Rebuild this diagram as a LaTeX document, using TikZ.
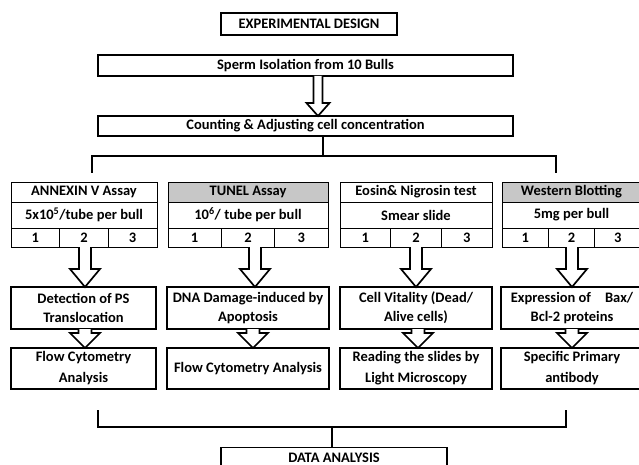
\documentclass[tikz,border=0pt]{standalone}
\usepackage{fontspec}
\setmainfont{Carlito}
\usetikzlibrary{calc}
% #1 start coordinate, #2 target node anchor, #3 shaft half width, #4 head half width, #5 head length
\newcommand\blockarr[5]{%
  \draw[arrline] ($(#1)+(-#3,0)$) -- ($(#1|-#2)+(-#3,-#5)$) -- ($(#1|-#2)+(-#4,-#5)$)
    -- (#1|-#2) -- ($(#1|-#2)+(#4,-#5)$) -- ($(#1|-#2)+(#3,-#5)$) -- ($(#1)+(#3,0)$);}
\begin{document}
\begin{tikzpicture}[x=1pt,y=-1pt,
  every node/.style={font=\fontsize{14.5}{19}\selectfont\bfseries, inner sep=0pt, outer sep=0pt},
  wide/.style={font=\fontsize{14.5}{21}\selectfont\bfseries},
  mainbox/.style={draw, line width=1.5pt},
  tbl/.style={draw, line width=0.8pt},
  titlegray/.style={tbl, fill=black!22},
  stepbox/.style={draw, line width=1.8pt, align=center},
  arrline/.style={line width=1.7pt, fill=white, line join=miter},
  brk/.style={line width=1.8pt}]
\useasboundingbox (0,0) rectangle (639,465);

% top boxes
\node[mainbox, minimum width=176pt, minimum height=22pt] (ed) at (309,24) {EXPERIMENTAL DESIGN};
\node[mainbox, minimum width=415pt, minimum height=21pt] (sperm) at (305.5,65.5) {Sperm Isolation from 10 Bulls};
\node[mainbox, minimum width=415pt, minimum height=20pt] (count) at (305.5,126) {Counting \& Adjusting cell concentration};
\coordinate (a0) at ($(sperm.south)+(12.5,0)$);
\blockarr{a0}{count.north}{4.5}{11.5}{13}

% top bracket
\coordinate (bl) at (92,173);
\coordinate (br) at (556,173);
\coordinate (bm) at (323,156);
\draw[brk] (bm |- count.south) -- (bm);
\draw[brk] (bl) |- (bm) -| (br);

% column 1
\node[tbl, minimum width=146pt, minimum height=20pt] (t1) at (84,192) {ANNEXIN V Assay};
\node[tbl, minimum width=146pt, minimum height=26pt] (r1) at (84,215) {5x10\textsuperscript{5}/tube per bull};
\node[tbl, minimum width=48.67pt, minimum height=19pt] (n1a) at (35.33,237.5) {1};
\node[tbl, minimum width=48.67pt, minimum height=19pt] (n1b) at (84,237.5) {2};
\node[tbl, minimum width=48.67pt, minimum height=19pt] (n1c) at (132.67,237.5) {3};
% column 2
\node[titlegray, minimum width=160pt, minimum height=20pt] (t2) at (248,192) {TUNEL Assay};
\node[tbl, minimum width=160pt, minimum height=26pt] (r2) at (248,215) {10\textsuperscript{6}/ tube per bull};
\node[tbl, minimum width=53.33pt, minimum height=19pt] (n2a) at (194.67,237.5) {1};
\node[tbl, minimum width=53.33pt, minimum height=19pt] (n2b) at (248,237.5) {2};
\node[tbl, minimum width=53.33pt, minimum height=19pt] (n2c) at (301.33,237.5) {3};
% column 3
\node[tbl, minimum width=152pt, minimum height=20pt] (t3) at (416,192) {Eosin\& Nigrosin test};
\node[tbl, minimum width=152pt, minimum height=26pt] (r3) at (416,215) {Smear slide};
\node[tbl, minimum width=50.67pt, minimum height=19pt] (n3a) at (365.33,237.5) {1};
\node[tbl, minimum width=50.67pt, minimum height=19pt] (n3b) at (416,237.5) {2};
\node[tbl, minimum width=50.67pt, minimum height=19pt] (n3c) at (466.67,237.5) {3};
% column 4
\node[titlegray, minimum width=139pt, minimum height=20pt] (t4) at (571.5,192) {Western Blotting};
\node[tbl, minimum width=139pt, minimum height=26pt] (r4) at (571.5,215) {5mg per bull};
\node[tbl, minimum width=46.33pt, minimum height=19pt] (n4a) at (525.17,237.5) {1};
\node[tbl, minimum width=46.33pt, minimum height=19pt] (n4b) at (571.5,237.5) {2};
\node[tbl, minimum width=46.33pt, minimum height=19pt] (n4c) at (617.83,237.5) {3};

% second row
\node[stepbox, minimum width=145pt, minimum height=42pt] (d1) at (83.5,308) {Detection of PS\\Translocation};
\node[stepbox, minimum width=162pt, minimum height=42pt] (d2) at (248,308) {DNA Damage-induced by\\Apoptosis};
\node[stepbox, minimum width=152pt, minimum height=42pt] (d3) at (416,308) {Cell Vitality (Dead/\\Alive cells)};
\node[stepbox, minimum width=142pt, minimum height=42pt] (d4) at (572,308) {Expression of\hspace{14pt}Bax/\\Bcl-2 proteins};

% third row
\node[stepbox, wide, minimum width=145pt, minimum height=41pt] (f1) at (83.5,368.5) {Flow Cytometry\\Analysis};
\node[stepbox, minimum width=162pt, minimum height=41pt] (f2) at (248,368.5) {Flow Cytometry Analysis};
\node[stepbox, wide, minimum width=152pt, minimum height=41pt] (f3) at (416,368.5) {Reading the slides by\\Light Microscopy};
\node[stepbox, wide, minimum width=142pt, minimum height=41pt] (f4) at (572,368.5) {Specific Primary\\antibody};

% big arrows
\coordinate (a1) at ($(n1b.south)+(1,0)$);
\coordinate (a2) at ($(n2b.south)+(7,0)$);
\coordinate (a3) at (n3b.south);
\coordinate (a4) at ($(n4b.south)+(0.5,0)$);
\blockarr{a1}{d1.north}{6}{15}{18}
\blockarr{a2}{d2.north}{6}{15}{18}
\blockarr{a3}{d3.north}{6}{15}{18}
\blockarr{a4}{d4.north}{6}{15}{18}
% small arrows
\coordinate (b1) at ($(d1.south)+(1.5,0)$);
\coordinate (b2) at ($(d2.south)+(5,0)$);
\coordinate (b3) at ($(d3.south)+(2,0)$);
\coordinate (b4) at (d4.south);
\blockarr{b1}{f1.north}{6.5}{15}{15}
\blockarr{b2}{f2.north}{6.5}{15}{15}
\blockarr{b3}{f3.north}{6.5}{15}{15}
\blockarr{b4}{f4.north}{6.5}{15}{15}

% bottom bracket
\coordinate (cl) at (98,410);
\coordinate (cr) at (566,410);
\coordinate (cm) at (332,427);
\node[mainbox, minimum width=226pt, minimum height=21pt] (data) at (334,458) {DATA ANALYSIS};
\draw[brk] (cl) |- (cm) -| (cr);
\draw[brk] (cm) -- (cm |- data.north);
\end{tikzpicture}
\end{document}
